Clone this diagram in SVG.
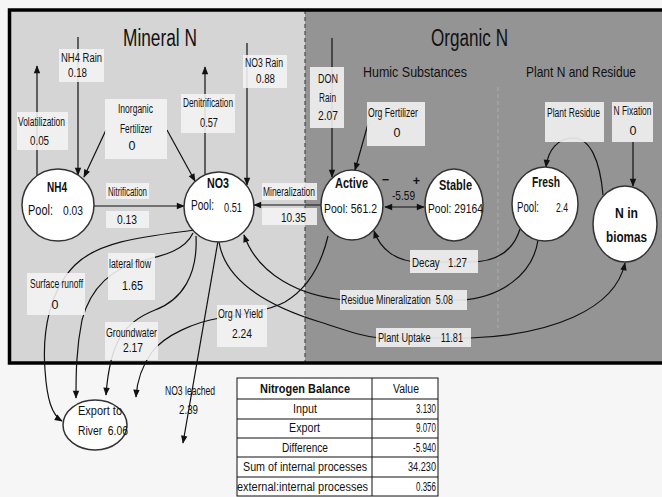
<svg xmlns="http://www.w3.org/2000/svg" width="662" height="497" viewBox="0 0 662 497">
<style>
text{font-family:"Liberation Sans Narrow","Liberation Sans",Arial,sans-serif;fill:#111}
.l{font-size:12.5px;text-anchor:middle}
.ls{font-size:12.5px}
.ttl{font-size:23px;text-anchor:middle}
.sub{font-size:15px;text-anchor:middle}
.nb{font-size:14px;font-weight:bold;text-anchor:middle}
.pool{font-size:15px}
.pv{font-size:13px}
.nd{fill:#fff;stroke:#333;stroke-width:1.5}
.bx{fill:#f4f4f4;fill-opacity:0.88}
.c{fill:none;stroke:#111;stroke-width:1.2}
.a{marker-end:url(#ah)}
.tb{fill:#fff;stroke:#111;stroke-width:1}
.tt{font-size:12.5px;text-anchor:middle}
.tv{font-size:12.5px;text-anchor:end}
</style>
<defs>
<marker id="ah" viewBox="0 0 10 10" refX="9" refY="5" markerWidth="9" markerHeight="8" markerUnits="userSpaceOnUse" orient="auto-start-reverse">
<path d="M0,1 L10,5 L0,9 z" fill="#111"/>
</marker>
</defs>
<rect x="0" y="0" width="662" height="497" fill="#f6f6f6"/>
<g id="frame">
<rect x="10" y="10" width="295" height="353" fill="#d5d5d5"/>
<rect x="305" y="10" width="360" height="353" fill="#949494"/>
<line x1="305" y1="10" x2="305" y2="363" stroke="#333" stroke-width="1" stroke-dasharray="4,3"/>
<line x1="498" y1="87" x2="498" y2="328" stroke="#aaa" stroke-width="1" stroke-dasharray="4,3"/>
<rect x="9.5" y="10" width="660" height="353" fill="none" stroke="#000" stroke-width="3.5"/>
<text class="ttl" x="160" y="46" textLength="74" lengthAdjust="spacingAndGlyphs">Mineral N</text>
<text class="ttl" x="469.5" y="46" textLength="77" lengthAdjust="spacingAndGlyphs">Organic N</text>
<text class="sub" x="415" y="77" textLength="104" lengthAdjust="spacingAndGlyphs">Humic Substances</text>
<text class="sub" x="581" y="77" textLength="110" lengthAdjust="spacingAndGlyphs">Plant N and Residue</text>
</g>
<g id="connectors">
<path class="c a" d="M37,176 L37,66"/>
<path class="c a" d="M78,37 L78,175"/>
<path class="c a" d="M106,130 L84,177"/>
<path class="c a" d="M167,130 L195,181"/>
<path class="c a" d="M205,174 L205,67"/>
<path class="c a" d="M247,43 L247,185"/>
<path class="c a" d="M94,206 L184,206"/>
<path class="c a" d="M321,205 L254,205"/>
<path class="c a" d="M332,38 L332,177"/>
<path class="c a" d="M368,124 L355,170"/>
<path class="c a" d="M385,207 L424,207" marker-start="url(#ah)"/>
<path class="c a" d="M603,195 C600,160 590,138 573,138 C558,138 548,150 546,167"/>
<path class="c a" d="M633,142 L633,186"/>
<path class="c a" d="M520,229 C512,255 492,262 470,262 L420,262 C395,262 380,248 374,231"/>
<path class="c a" d="M538,240 C533,275 500,298 460,300 L345,300 C300,296 258,275 244,235"/>
<path class="c a" d="M219,242 C225,280 265,305 320,322 C345,330 360,336 380,338 L470,338 C550,335 615,310 625,263"/>
<path class="c a" d="M328,236 C320,270 305,290 285,302 C270,310 245,314 220,318 C195,322 165,335 152,352 C142,366 137,380 136,397"/>
<path class="c a" d="M195,230 C150,236 100,240 75,265 C50,290 42,330 45,370 C47,400 52,415 62,421"/>
<path class="c a" d="M193,233 C185,250 165,255 145,260 C110,268 90,290 82,320 C76,350 76,375 76,398"/>
<path class="c a" d="M196,236 C198,275 182,300 155,310 C125,322 110,340 106,395"/>
<path class="c a" d="M218,241 L183,443"/>
</g>
<g id="labels">
<rect class="bx" x="59" y="49" width="45" height="33"/>
<text class="l" x="81.5" y="62" textLength="41" lengthAdjust="spacingAndGlyphs">NH4  Rain</text>
<text class="l" x="77.5" y="77" textLength="19" lengthAdjust="spacingAndGlyphs">0.18</text>
<rect class="bx" x="17" y="112" width="51" height="38"/>
<text class="l" x="41.5" y="126" textLength="47" lengthAdjust="spacingAndGlyphs">Volatilization</text>
<text class="l" x="39.5" y="145" textLength="19" lengthAdjust="spacingAndGlyphs">0.05</text>
<rect class="bx" x="105" y="99" width="62" height="60"/>
<text class="l" x="135.5" y="113" textLength="35" lengthAdjust="spacingAndGlyphs">Inorganic</text>
<text class="l" x="136" y="133" textLength="32" lengthAdjust="spacingAndGlyphs">Fertilizer</text>
<text class="l" x="132" y="150">0</text>
<rect class="bx" x="181" y="94" width="54" height="39"/>
<text class="l" x="208" y="107" textLength="50" lengthAdjust="spacingAndGlyphs">Denitrification</text>
<text class="l" x="209" y="127" textLength="18" lengthAdjust="spacingAndGlyphs">0.57</text>
<rect class="bx" x="243" y="55" width="44" height="33"/>
<text class="l" x="264" y="67" textLength="38" lengthAdjust="spacingAndGlyphs">NO3 Rain</text>
<text class="l" x="265.5" y="83" textLength="19" lengthAdjust="spacingAndGlyphs">0.88</text>
<rect class="bx" x="310" y="67" width="34" height="61"/>
<text class="l" x="328" y="83" textLength="20" lengthAdjust="spacingAndGlyphs">DON</text>
<text class="l" x="327.5" y="102" textLength="17" lengthAdjust="spacingAndGlyphs">Rain</text>
<text class="l" x="328" y="120" textLength="20" lengthAdjust="spacingAndGlyphs">2.07</text>
<rect class="bx" x="367" y="102" width="58" height="44"/>
<text class="l" x="393" y="117" textLength="50" lengthAdjust="spacingAndGlyphs">Org Fertilizer</text>
<text class="l" x="397" y="137">0</text>
<rect class="bx" x="545" y="102" width="59" height="40"/>
<text class="l" x="573.5" y="117" textLength="53" lengthAdjust="spacingAndGlyphs">Plant Residue</text>
<rect class="bx" x="612" y="102" width="41" height="40"/>
<text class="l" x="632.5" y="115" font-size="12" textLength="38" lengthAdjust="spacingAndGlyphs">N Fixation</text>
<text class="l" x="633" y="135">0</text>
<rect class="bx" x="106" y="183" width="43" height="16"/>
<text class="l" x="127.5" y="196" textLength="39" lengthAdjust="spacingAndGlyphs">Nitrification</text>
<rect class="bx" x="106" y="211" width="43" height="17"/>
<text class="l" x="127" y="224" textLength="20" lengthAdjust="spacingAndGlyphs">0.13</text>
<rect class="bx" x="262" y="183" width="55" height="17"/>
<text class="l" x="289" y="196" textLength="52" lengthAdjust="spacingAndGlyphs">Mineralization</text>
<rect class="bx" x="262" y="208" width="55" height="17"/>
<text class="l" x="293.5" y="222" textLength="25" lengthAdjust="spacingAndGlyphs">10.35</text>
<rect class="bx" x="27" y="273" width="58" height="42"/>
<text class="l" x="56.5" y="288" textLength="53" lengthAdjust="spacingAndGlyphs">Surface runoff</text>
<text class="l" x="55" y="309">0</text>
<rect class="bx" x="108" y="253" width="47" height="47"/>
<text class="l" x="130" y="268" textLength="42" lengthAdjust="spacingAndGlyphs">lateral flow</text>
<text class="l" x="132.5" y="290" textLength="21" lengthAdjust="spacingAndGlyphs">1.65</text>
<rect class="bx" x="105" y="322" width="53" height="38"/>
<text class="l" x="131.5" y="337" textLength="51" lengthAdjust="spacingAndGlyphs">Groundwater</text>
<text class="l" x="133" y="352" textLength="20" lengthAdjust="spacingAndGlyphs">2.17</text>
<rect class="bx" x="217" y="305" width="50" height="42"/>
<text class="l" x="240.5" y="318" textLength="45" lengthAdjust="spacingAndGlyphs">Org N Yield</text>
<text class="l" x="242" y="338" textLength="20" lengthAdjust="spacingAndGlyphs">2.24</text>
<rect class="bx" x="410" y="250" width="68" height="23"/>
<text class="ls" x="412" y="267" textLength="55" lengthAdjust="spacingAndGlyphs" xml:space="preserve">Decay   1.27</text>
<rect class="bx" x="340" y="290" width="127" height="20"/>
<text class="ls" x="341" y="304" textLength="112" lengthAdjust="spacingAndGlyphs" xml:space="preserve">Residue Mineralization  5.08</text>
<rect class="bx" x="376" y="328" width="95" height="19"/>
<text class="ls" x="378" y="342" textLength="85" lengthAdjust="spacingAndGlyphs" xml:space="preserve">Plant Uptake    11.81</text>
<text class="l" x="190" y="395" textLength="50" lengthAdjust="spacingAndGlyphs">NO3 leached</text>
<text class="l" x="188.5" y="414" textLength="19" lengthAdjust="spacingAndGlyphs">2.39</text>
<text class="l" x="385.5" y="184" font-size="16" font-weight="bold">−</text>
<text class="l" x="416.5" y="185" font-size="16" font-weight="bold">+</text>
<text class="l" x="403.5" y="200" textLength="23" lengthAdjust="spacingAndGlyphs">-5.59</text>
</g>
<g id="node-nh4">
<circle class="nd" cx="58" cy="205" r="36"/>
<text class="nb" x="57" y="192" textLength="20" lengthAdjust="spacingAndGlyphs">NH4</text>
<text class="pool" x="28" y="215" textLength="25" lengthAdjust="spacingAndGlyphs">Pool:</text>
<text class="pv" x="63" y="215" textLength="20" lengthAdjust="spacingAndGlyphs">0.03</text>
</g>
<g id="node-no3">
<circle class="nd" cx="219" cy="207" r="35"/>
<text class="nb" x="218" y="188" textLength="22" lengthAdjust="spacingAndGlyphs">NO3</text>
<text class="pool" x="191" y="210" textLength="23" lengthAdjust="spacingAndGlyphs">Pool:</text>
<text class="pv" x="224" y="212" textLength="18" lengthAdjust="spacingAndGlyphs">0.51</text>
</g>
<g id="node-active">
<ellipse class="nd" cx="352" cy="205" rx="31" ry="35"/>
<text class="nb" x="351.5" y="188" textLength="33" lengthAdjust="spacingAndGlyphs">Active</text>
<text class="l" x="350.5" y="213" font-size="14" textLength="53" lengthAdjust="spacingAndGlyphs">Pool: 561.2</text>
</g>
<g id="node-stable">
<ellipse class="nd" cx="454" cy="205" rx="29" ry="36"/>
<text class="nb" x="455.5" y="190" textLength="33" lengthAdjust="spacingAndGlyphs">Stable</text>
<text class="l" x="455.5" y="213" font-size="14" textLength="55" lengthAdjust="spacingAndGlyphs">Pool: 29164</text>
</g>
<g id="node-fresh">
<ellipse class="nd" cx="545" cy="204" rx="33" ry="37"/>
<text class="nb" x="546" y="187" textLength="28" lengthAdjust="spacingAndGlyphs">Fresh</text>
<text class="pool" x="517" y="212" font-size="14" textLength="22" lengthAdjust="spacingAndGlyphs">Pool:</text>
<text class="pv" x="556" y="212" textLength="12" lengthAdjust="spacingAndGlyphs">2.4</text>
</g>
<g id="node-biomass">
<ellipse class="nd" cx="625" cy="224" rx="32" ry="38"/>
<text class="nb" x="626.5" y="218" font-size="17" textLength="23" lengthAdjust="spacingAndGlyphs">N in</text>
<text class="nb" x="626.5" y="242" font-size="17" textLength="41" lengthAdjust="spacingAndGlyphs">biomas</text>
</g>
<g id="node-export">
<ellipse class="nd" cx="95" cy="425" rx="32" ry="25"/>
<text class="ls" x="78" y="415" font-size="14" textLength="44" lengthAdjust="spacingAndGlyphs">Export to</text>
<text class="ls" x="78" y="435" font-size="14" textLength="50" lengthAdjust="spacingAndGlyphs" xml:space="preserve">River  6.06</text>
</g>
<g id="balance-table">
<rect class="tb" x="237" y="378" width="201" height="118"/>
<line x1="372" y1="378" x2="372" y2="496" stroke="#111"/>
<line x1="237" y1="399" x2="438" y2="399" stroke="#111"/>
<line x1="237" y1="419" x2="438" y2="419" stroke="#111"/>
<line x1="237" y1="438" x2="438" y2="438" stroke="#111"/>
<line x1="237" y1="457" x2="438" y2="457" stroke="#111"/>
<line x1="237" y1="477" x2="438" y2="477" stroke="#111"/>
<text class="tt" x="305" y="393" font-weight="bold" textLength="90" lengthAdjust="spacingAndGlyphs">Nitrogen Balance</text>
<text class="tt" x="406" y="393" textLength="26" lengthAdjust="spacingAndGlyphs">Value</text>
<text class="tt" x="305" y="413" textLength="24" lengthAdjust="spacingAndGlyphs">Input</text>
<text class="tt" x="304.5" y="432" textLength="31" lengthAdjust="spacingAndGlyphs">Export</text>
<text class="tt" x="305" y="452" textLength="46" lengthAdjust="spacingAndGlyphs">Difference</text>
<text class="tt" x="305" y="471" textLength="124" lengthAdjust="spacingAndGlyphs">Sum of internal processes</text>
<text class="tt" x="302.5" y="491" textLength="131" lengthAdjust="spacingAndGlyphs">external:internal processes</text>
<text class="tv" x="436" y="413" textLength="20" lengthAdjust="spacingAndGlyphs">3.130</text>
<text class="tv" x="436" y="432" textLength="20" lengthAdjust="spacingAndGlyphs">9.070</text>
<text class="tv" x="436" y="452" textLength="23" lengthAdjust="spacingAndGlyphs">-5.940</text>
<text class="tv" x="436" y="471" textLength="28" lengthAdjust="spacingAndGlyphs">34.230</text>
<text class="tv" x="436" y="491" textLength="20" lengthAdjust="spacingAndGlyphs">0.356</text>
</g>
</svg>
